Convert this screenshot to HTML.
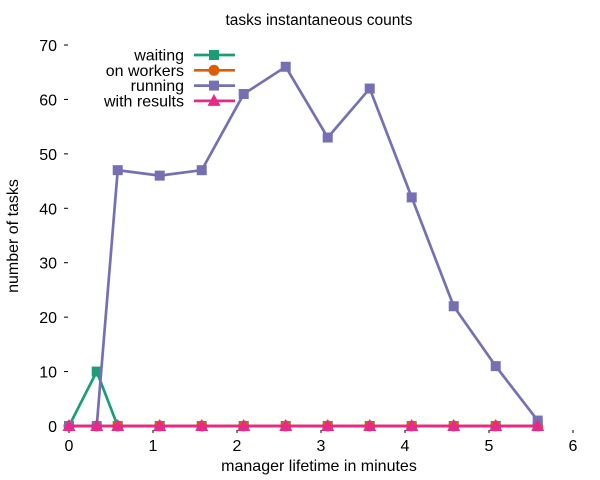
<!DOCTYPE html>
<html><head><meta charset="utf-8"><style>
body{margin:0;background:#fff}
svg{font-family:"Liberation Sans",sans-serif;display:block}
</style></head><body>
<svg id="chart" width="600" height="480" xmlns="http://www.w3.org/2000/svg">
<text x="319" y="25" font-size="15.5" text-anchor="middle">tasks instantaneous counts</text>
<text x="319" y="471" font-size="16" text-anchor="middle">manager lifetime in minutes</text>
<text transform="translate(18,236) rotate(-90)" font-size="16" text-anchor="middle">number of tasks</text>
<g id="axes"></g><g id="series"></g><g id="legend"></g>
</svg>
<script>
const xTicks=[0,1,2,3,4,5,6];
const yTicks=[0,10,20,30,40,50,60,70];
const times=[0,0.33,0.58,1.08,1.58,2.08,2.58,3.08,3.58,4.08,4.58,5.08,5.58];
const waiting=[0,10,0,0,0,0,0,0,0,0,0,0,0];
const onWorkers=[0,0,0,0,0,0,0,0,0,0,0,0,0];
const running=[0,0,47,46,47,61,66,53,62,42,22,11,1];
const withResults=[0,0,0,0,0,0,0,0,0,0,0,0,0];
const seriesNames=["waiting","on workers","running","with results"];
const NS="http://www.w3.org/2000/svg";
const X=v=>69+v*84, Y=v=>426-v*(381/70);
function mk(tag,attrs,parent,text){const e=document.createElementNS(NS,tag);for(const k in attrs)e.setAttribute(k,attrs[k]);if(text!==undefined)e.textContent=text;parent.appendChild(e);return e;}
const axes=document.getElementById('axes');
yTicks.forEach(t=>{
  const l=mk('line',{x1:64,x2:68,y1:Y(t),y2:Y(t),stroke:'#000'},axes);
  
  
  const tx=mk('text',{x:57,y:Y(t)+6,'font-size':16,'text-anchor':'end'},axes,String(t));
  
  
});
xTicks.forEach(t=>{
  const l=mk('line',{x1:X(t),x2:X(t),y1:430,y2:433,stroke:'#000'},axes);
  
  
  const tx=mk('text',{x:X(t),y:451,'font-size':16,'text-anchor':'middle'},axes,String(t));
  
  
});
const colors=["#1b9e77","#d95f02","#7570b3","#e7298a"];
const shapes=["square","circle","square","triangle"];
const data=[waiting,onWorkers,running,withResults];
const sg=document.getElementById('series');
function marker(g,shape,x,y,c){
  let m;
  if(shape==='square')m=mk('rect',{x:x-5,y:y-5,width:10,height:10,fill:c},g);
  else if(shape==='circle')m=mk('circle',{cx:x,cy:y,r:5.5,fill:c},g);
  else m=mk('polygon',{points:`${x},${y-7} ${x+6.5},${y+5} ${x-6.5},${y+5}`,fill:c},g);
  
  
}
data.forEach((vals,i)=>{
  const g=mk('g',{},sg);
  
  
  const pts=vals.map((v,j)=>X(times[j])+','+Y(v)).join(' ');
  mk('polyline',{points:pts,fill:'none',stroke:colors[i],'stroke-width':2.7},g);
  vals.forEach((v,j)=>marker(g,shapes[i],X(times[j]),Y(v),colors[i]));
});
const lg=document.getElementById('legend');
seriesNames.forEach((n,i)=>{
  const y=55+i*15.3;
  const g=mk('g',{},lg);
  
  
  mk('text',{x:184,y:y+5.5,'font-size':16,'text-anchor':'end'},g,n);
  mk('line',{x1:194,x2:235,y1:y,y2:y,stroke:colors[i],'stroke-width':2.7},g);
  marker(g,shapes[i],214,y,colors[i]);
});
</script>
</body></html>
